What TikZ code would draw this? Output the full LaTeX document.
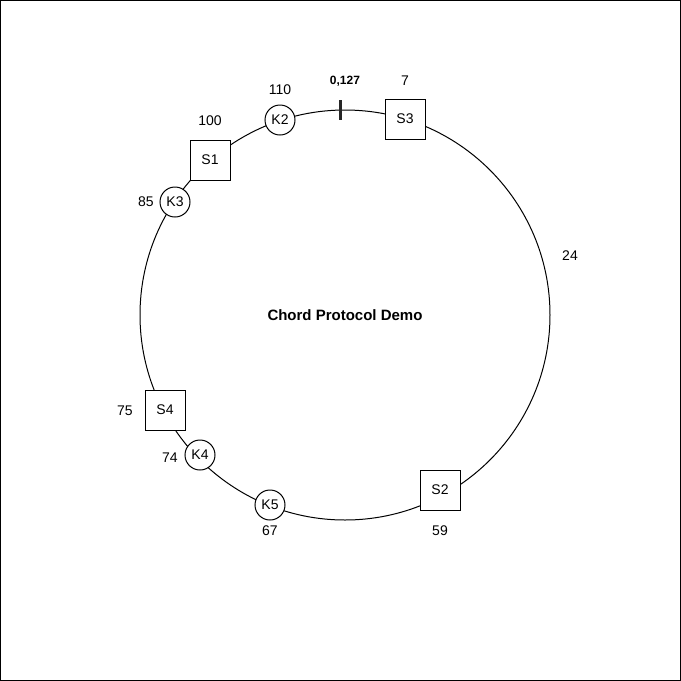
\documentclass[tikz,border=0pt]{standalone}
\usepackage{fontspec}
\setmainfont{Liberation Sans}
\usepackage{tikz}

\tikzset{
  server/.style={draw, fill=white, line width=1pt, minimum size=40pt, inner sep=0pt, font=\fontsize{14}{16}\selectfont},
  keynode/.style={draw, circle, fill=white, line width=1pt, minimum size=30pt, inner sep=0pt, font=\fontsize{14}{16}\selectfont},
  idlabel/.style={font=\fontsize{14}{16}\selectfont}
}

\begin{document}
\begin{tikzpicture}[x=1pt, y=-1pt]
\useasboundingbox (0, 0) rectangle (681, 681);
\draw[line width=1pt] (0.5, 0.5) rectangle (680.5, 680.5);
\coordinate (centre) at (345, 315);
\draw[line width=1pt] (centre) circle (205pt);
\draw[line width=3pt, black!85] (340, 100) -- (340, 120);
\node[font=\fontsize{12}{14}\selectfont\bfseries] (zero) at (345, 81) {0,127};
\node[font=\fontsize{15}{17}\selectfont\bfseries] (title) at (centre) {Chord Protocol Demo};

\node[server] (s3) at (405, 119) {S3};
\node[idlabel] at (405, 81) {7};
\node[server] (s1) at (210, 160) {S1};
\node[idlabel] at (210, 121) {100};
\node[server] (s4) at (165, 410) {S4};
\node[idlabel] at (125, 411) {75};
\node[server] (s2) at (440, 490) {S2};
\node[idlabel] at (440, 531) {59};

\node[keynode] (k2) at (280, 120) {K2};
\node[idlabel] at (280, 90) {110};
\node[keynode] (k3) at (175, 202) {K3};
\node[idlabel] at (146, 202) {85};
\node[keynode] (k4) at (200, 455) {K4};
\node[idlabel] at (170, 458) {74};
\node[keynode] (k5) at (270, 505) {K5};
\node[idlabel] at (270, 531) {67};

\node[idlabel] at (570, 256) {24};
\end{tikzpicture}
\end{document}
